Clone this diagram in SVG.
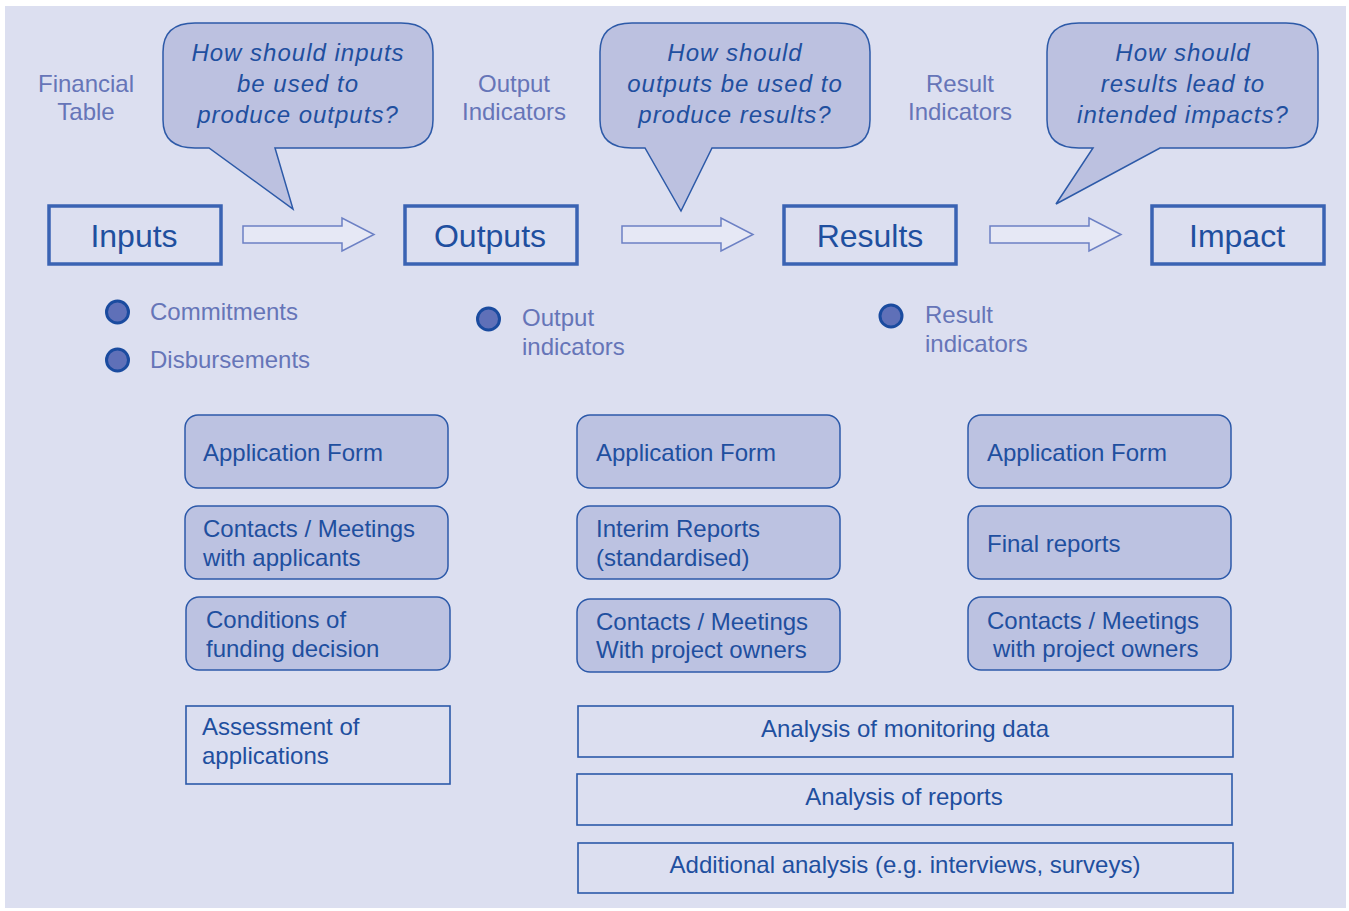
<svg xmlns="http://www.w3.org/2000/svg" width="1349" height="911" viewBox="0 0 1349 911">
<style>
text{font-family:"Liberation Sans",Arial,sans-serif;}
.dk{fill:#1F4F9F;font-size:24px;}
.lt{fill:#6675B8;font-size:24px;}
.big{fill:#1F4F9F;font-size:32px;text-anchor:middle;}
.q{fill:#1F4F9F;font-size:24px;font-style:italic;text-anchor:middle;letter-spacing:1px;}
.mid{text-anchor:middle;}
.main{fill:none;stroke:#3A63B3;stroke-width:3.5;}
.bub{fill:#BCC1E0;stroke:#2D5AA8;stroke-width:1.5;}
.rb{fill:#BCC2E1;stroke:#2C59A9;stroke-width:1.5;}
.pb{fill:none;stroke:#2C59A9;stroke-width:1.6;}
.arr{fill:#E6E8F5;stroke:#6C80C4;stroke-width:1.5;}
.dot{fill:#5F70B8;stroke:#1A4B9F;stroke-width:3;}
</style>
<rect x="5" y="6" width="1341" height="902" fill="#DCDFF0"/>

<g id="labels-top">
<text class="lt mid" x="86" y="92">Financial</text>
<text class="lt mid" x="86" y="120">Table</text>
<text class="lt mid" x="514" y="92">Output</text>
<text class="lt mid" x="514" y="120">Indicators</text>
<text class="lt mid" x="960" y="92">Result</text>
<text class="lt mid" x="960" y="120">Indicators</text>
</g>

<g id="bubble1">
<path class="bub" d="M195 23 H401 Q433 23 433 52 V120 Q433 148 401 148 H275 L293 209 L209 148 H195 Q163 148 163 120 V52 Q163 23 195 23 Z"/>
<text class="q" x="298" y="61">How should inputs</text>
<text class="q" x="298" y="92">be used to</text>
<text class="q" x="298" y="123">produce outputs?</text>
</g>
<g id="bubble2">
<path class="bub" d="M632 23 H838 Q870 23 870 52 V120 Q870 148 838 148 H712 L681 211 L645 148 H632 Q600 148 600 120 V52 Q600 23 632 23 Z"/>
<text class="q" x="735" y="61">How should</text>
<text class="q" x="735" y="92">outputs be used to</text>
<text class="q" x="735" y="123">produce results?</text>
</g>
<g id="bubble3">
<path class="bub" d="M1079 23 H1286 Q1318 23 1318 52 V120 Q1318 148 1286 148 H1160 L1056 204 L1093 148 H1079 Q1047 148 1047 120 V52 Q1047 23 1079 23 Z"/>
<text class="q" x="1183" y="61">How should</text>
<text class="q" x="1183" y="92">results lead to</text>
<text class="q" x="1183" y="123">intended impacts?</text>
</g>

<g id="inputs"><rect class="main" x="49" y="206" width="172" height="58"/><text class="big" x="134" y="247">Inputs</text></g>
<g id="outputs"><rect class="main" x="405" y="206" width="172" height="58"/><text class="big" x="490" y="247">Outputs</text></g>
<g id="results"><rect class="main" x="784" y="206" width="172" height="58"/><text class="big" x="870" y="247">Results</text></g>
<g id="impact"><rect class="main" x="1152" y="206" width="172" height="58"/><text class="big" x="1237" y="247">Impact</text></g>

<g id="connectors">
<path class="arr" d="M243 226 H342 V218 L374 234.5 L342 251 V243 H243 Z"/>
<path class="arr" d="M622 226 H721 V218 L753 234.5 L721 251 V243 H622 Z"/>
<path class="arr" d="M990 226 H1089 V218 L1121 234.5 L1089 251 V243 H990 Z"/>
</g>

<g id="bullets">
<circle class="dot" cx="117.5" cy="312" r="11"/>
<text class="lt" x="150" y="320">Commitments</text>
<circle class="dot" cx="117.5" cy="360" r="11"/>
<text class="lt" x="150" y="368">Disbursements</text>
<circle class="dot" cx="488.5" cy="319" r="11"/>
<text class="lt" x="522" y="326">Output</text>
<text class="lt" x="522" y="355">indicators</text>
<circle class="dot" cx="891" cy="316" r="11"/>
<text class="lt" x="925" y="323">Result</text>
<text class="lt" x="925" y="352">indicators</text>
</g>

<g id="c1-app"><rect class="rb" x="185" y="415" width="263" height="73" rx="13"/><text class="dk" x="203" y="461">Application Form</text></g>
<g id="c1-contacts"><rect class="rb" x="185" y="506" width="263" height="73" rx="13"/><text class="dk" x="203" y="537">Contacts / Meetings</text><text class="dk" x="203" y="566">with applicants</text></g>
<g id="c1-conditions"><rect class="rb" x="186" y="597" width="264" height="73" rx="13"/><text class="dk" x="206" y="628">Conditions of</text><text class="dk" x="206" y="657">funding decision</text></g>
<g id="c1-assessment"><rect class="pb" x="186" y="706" width="264" height="78"/><text class="dk" x="202" y="735">Assessment of</text><text class="dk" x="202" y="764">applications</text></g>

<g id="c2-app"><rect class="rb" x="577" y="415" width="263" height="73" rx="13"/><text class="dk" x="596" y="461">Application Form</text></g>
<g id="c2-interim"><rect class="rb" x="577" y="506" width="263" height="73" rx="13"/><text class="dk" x="596" y="537">Interim Reports</text><text class="dk" x="596" y="566">(standardised)</text></g>
<g id="c2-contacts"><rect class="rb" x="577" y="599" width="263" height="73" rx="13"/><text class="dk" x="596" y="630">Contacts / Meetings</text><text class="dk" x="596" y="658">With project owners</text></g>

<g id="c3-app"><rect class="rb" x="968" y="415" width="263" height="73" rx="13"/><text class="dk" x="987" y="461">Application Form</text></g>
<g id="c3-final"><rect class="rb" x="968" y="506" width="263" height="73" rx="13"/><text class="dk" x="987" y="552">Final reports</text></g>
<g id="c3-contacts"><rect class="rb" x="968" y="597" width="263" height="73" rx="13"/><text class="dk" x="987" y="629">Contacts / Meetings</text><text class="dk" x="993" y="657">with project owners</text></g>

<g id="monitoring"><rect class="pb" x="578" y="706" width="655" height="51"/><text class="dk mid" x="905" y="737">Analysis of monitoring data</text></g>
<g id="reports"><rect class="pb" x="577" y="774" width="655" height="51"/><text class="dk mid" x="904" y="805">Analysis of reports</text></g>
<g id="additional"><rect class="pb" x="578" y="843" width="655" height="50"/><text class="dk mid" x="905" y="873">Additional analysis (e.g. interviews, surveys)</text></g>
</svg>
